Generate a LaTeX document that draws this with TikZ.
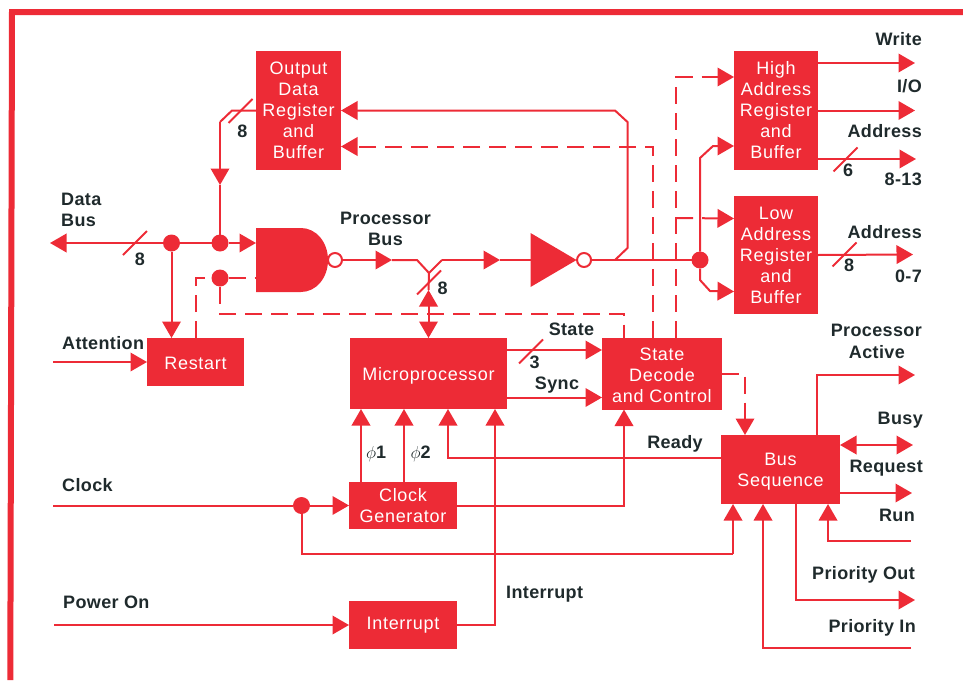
\documentclass[tikz,border=0pt]{standalone}
\usepackage{fontspec}
\setmainfont{Liberation Sans}
\newfontfamily\blockfont[LetterSpace=4]{Liberation Sans}
\newfontfamily\labelfont[LetterSpace=2]{Liberation Sans}
\usetikzlibrary{arrows.meta,positioning,shapes.geometric}
\definecolor{hpred}{HTML}{ED2B36}
\definecolor{labelink}{HTML}{1F2A2C}
\tikzstyle{block}=[rectangle,fill=hpred,text=white,align=center,inner sep=0pt,outer sep=0pt,
font=\blockfont\fontsize{18}{21}\selectfont]
\tikzstyle{lab}=[text=labelink,inner sep=0pt,align=center,font=\labelfont\bfseries\fontsize{18}{21}\selectfont]
\tikzstyle{sig}=[draw=hpred,line width=2pt]
\tikzstyle{dsig}=[sig,dash pattern=on 17pt off 9pt]
\tikzstyle{dot}=[circle,fill=hpred,minimum size=17pt,inner sep=0pt,outer sep=0pt]
\tikzstyle{bubble}=[circle,draw=hpred,fill=white,line width=2pt,minimum size=14pt,inner sep=0pt,outer sep=0pt]
\newcommand{\busslash}[1]{\draw[sig] ([xshift=-12pt,yshift=-12pt]#1) -- ([xshift=12pt,yshift=12pt]#1);}
\newcommand{\lowstrut}{\rule{0pt}{17pt}}
\begin{document}
\begin{tikzpicture}[x=1pt,y=-1pt,>={Triangle[length=16.5pt,width=18.5pt]}]
            \useasboundingbox (0,0) rectangle (963,680);

            % Frame
            \coordinate (framea) at (963,12);
            \coordinate (frameb) at (12,12);
            \coordinate (framec) at (10.3,680);
            \draw[hpred,line width=6pt] (framea) -- (frameb) -- (framec);

            % Blocks
            \node[block,minimum width=157pt,minimum height=71pt] at (428.5,373.5) (micro) {\lowstrut Microprocessor};
            \node[block,minimum width=120pt,minimum height=72pt,right=95pt of micro] (state) {\lowstrut State\\Decode\\and Control};
            \node[block,minimum width=97pt,minimum height=48pt,left=106pt of micro,yshift=11.5pt] (restart) {\rule{0pt}{15pt}Restart};
            \node[block,minimum width=108pt,minimum height=47pt,below=73pt of micro,xshift=-25.5pt] (clockgen) {Clock\\Generator};
            \node[block,minimum width=108pt,minimum height=48pt,below=72pt of clockgen] (interrupt) {Interrupt};
            \node[block,minimum width=119pt,minimum height=69pt] at (780.5,469.5) (busseq) {\lowstrut Bus\\Sequence};
            \node[block,minimum width=85pt,minimum height=119pt] at (298.5,110.5) (output) {Output\\Data\\Register\\and\\Buffer};
            \node[block,minimum width=84pt,minimum height=119pt,right=393pt of output] (high) {High\\Address\\Register\\and\\Buffer};
            \node[block,minimum width=84pt,minimum height=118pt,below=26pt of high] (low) {Low\\Address\\Register\\and\\Buffer};

            % Gates
            \node[minimum width=72pt,minimum height=64pt,inner sep=0pt,outer sep=0pt] at (292,260) (nand) {};
            \fill[hpred] (nand.north west) -- ([xshift=-27pt]nand.north east)
                .. controls ([xshift=-12pt]nand.north east) and ([yshift=18pt]nand.east) .. (nand.east)
                .. controls ([yshift=-18pt]nand.east) and ([xshift=-12pt]nand.south east) .. ([xshift=-27pt]nand.south east)
                -- (nand.south west) -- cycle;
            \node[bubble,right=0pt of nand] (nandout) {};
            \node[isosceles triangle,isosceles triangle stretches,fill=hpred,inner sep=0pt,outer sep=0pt,
                minimum width=54pt,minimum height=46pt] at (546,260) (inv) {};
            \node[bubble,right=0.5pt of inv] (invout) {};

            % Data bus part
            \coordinate (dataend) at (50,243);
            \coordinate (dataslash) at (135,243);
            \node[dot] at (171.5,243) (dataa) {};
            \node[dot] at (220,243) (datab) {};
            \coordinate (nandin) at ([yshift=17pt]nand.west);
            \draw[sig,->] (dataa) -- (dataend);
            \draw[sig] (dataa) -- (datab);
            \draw[sig,->] (datab) -- (nandin);
            \draw[sig,->] (dataa) -- (dataa |- restart.north);
            \busslash{dataslash}

            % Output register part
            \coordinate (outa) at (232,110.5);
            \coordinate (outb) at (220,122);
            \coordinate (outc) at (220,185);
            \coordinate (outslash) at (240.5,111);
            \draw[sig] (output.west) -- (outa) -- (outb);
            \draw[sig,->] (outb) -- (outc);
            \draw[sig] (outc) -- (datab);
            \busslash{outslash}

            % Processor bus part
            \coordinate (pbarrow) at (392,260);
            \coordinate (pba) at (417,260);
            \coordinate (pbfork) at (429,273);
            \coordinate (pbb) at (442,260);
            \coordinate (pbc) at (500,260);
            \coordinate (pbup) at (428.5,290);
            \coordinate (pbslash) at (429,282.5);
            \draw[sig,->] (nandout) -- (pbarrow);
            \draw[sig] (pbarrow) -- (pba) -- (pbfork) -- (pbb);
            \draw[sig,->] (pbb) -- (pbc);
            \draw[sig] (pbc) -- (inv.west);
            \draw[sig] (pbfork) -- (pbup);
            \draw[sig,<->] (pbup) -- (micro.north);
            \busslash{pbslash}

            \coordinate (inva) at (615,260);
            \coordinate (invb) at (627.5,248);
            \coordinate (invc) at (627.5,122);
            \coordinate (invd) at (615,110.5);
            \node[dot] at (700,260) (addr) {};
            \draw[sig] (invout) -- (addr);
            \draw[sig,->] (inva) -- (invb) -- (invc) -- (invd) -- (output.east);

            % Address part
            \coordinate (higha) at (700,158);
            \coordinate (highb) at (713,146);
            \coordinate (lowa) at (700,280);
            \coordinate (lowb) at (710,291);
            \coordinate (highin) at ([yshift=-35.5pt]high.west);
            \coordinate (lowin) at ([yshift=-36.5pt]low.west);
            \draw[sig,->] (addr) -- (higha) -- (highb) -- (highin);
            \draw[sig,->] (addr) -- (lowa) -- (lowb) -- (lowin);

            \coordinate (writea) at ([yshift=47.5pt]high.east);
            \coordinate (writeout) at (915,63);
            \coordinate (ioout) at (915,110.5);
            \coordinate (addra) at ([yshift=-48.5pt]high.east);
            \coordinate (addrout) at (916,159);
            \coordinate (addrslash) at (845.5,159.5);
            \coordinate (lowout) at (913,254.5);
            \coordinate (lowslash) at (844.5,254.5);
            \draw[sig,->] (writea) -- (writeout);
            \draw[sig,->] (high.east) -- (ioout);
            \draw[sig,->] (addra) -- (addrout);
            \draw[sig,->] (low.east) -- (lowout);
            \busslash{addrslash}
            \busslash{lowslash}

            % Dashed control lines
            \coordinate (dasha) at ([xshift=-9pt]state.north);
            \coordinate (dashb) at ([yshift=-36pt]output.east);
            \coordinate (dashc) at ([xshift=14pt]state.north);
            \coordinate (dashd) at ([yshift=33.5pt]high.west);
            \coordinate (dashe) at (dashc |- 0,218);
            \coordinate (dashf) at ([yshift=36.5pt]low.west);
            \draw[dsig,->] (dasha) |- (dashb);
            \draw[dsig,->] (dashc) |- (dashd);
            \draw[dsig,->] (dashe) -- (dashf);

            \node[dot] at (220,278) (rsta) {};
            \coordinate (rstb) at ([yshift=-18pt]nand.west);
            \coordinate (rstc) at (624,313.5);
            \draw[dsig] (restart.north) |- (rsta);
            \draw[dsig] (rsta) -- (rstb);
            \draw[dsig] (rsta) |- (rstc) -- (rstc |- state.north);

            % Microprocessor and state part
            \coordinate (stateout) at ([yshift=23.5pt]micro.east);
            \coordinate (syncout) at ([yshift=-24pt]micro.east);
            \coordinate (stateslash) at (531,351.5);
            \coordinate (busb) at ([xshift=-35.5pt]busseq.north);
            \draw[sig,->] (stateout) -- (stateout -| state.west);
            \draw[sig,->] (syncout) -- (syncout -| state.west);
            \draw[dsig,->] (state.east) -| (busb);
            \busslash{stateslash}

            % Clock part
            \coordinate (clockin) at (53,505.5);
            \node[dot] at (301.5,505.5) (clockdot) {};
            \coordinate (clockturn) at (733,554);
            \coordinate (busa) at ([xshift=-47.5pt]busseq.south);
            \coordinate (phione) at ([xshift=-42pt]clockgen.north);
            \coordinate (phitwo) at ([xshift=1pt]clockgen.north);
            \coordinate (statec) at ([xshift=-38pt]state.south);
            \draw[sig] (clockin) -- (clockdot);
            \draw[sig,->] (clockdot) -- (clockgen.west);
            \draw[sig] (clockdot) |- (clockturn);
            \draw[sig,->] (clockturn) -- (busa);
            \draw[sig,->] (phione) -- (phione |- micro.south);
            \draw[sig,->] (phitwo) -- (phitwo |- micro.south);
            \draw[sig,->] (clockgen.east) -| (statec);

            \coordinate (busready) at ([yshift=11.5pt]busseq.west);
            \coordinate (readyup) at ([xshift=19.5pt]micro.south);
            \draw[sig,->] (busready) -| (readyup);

            % Interrupt and restart inputs
            \coordinate (powerin) at (54,625);
            \coordinate (attin) at (53,362);
            \coordinate (intup) at ([xshift=66.5pt]micro.south);
            \draw[sig,->] (powerin) -- (interrupt.west);
            \draw[sig,->] (attin) -- (restart.west);
            \draw[sig,->] (interrupt.east) -| (intup);

            % Bus sequence part
            \coordinate (acta) at ([xshift=36.5pt]busseq.north);
            \coordinate (actout) at (915,375);
            \coordinate (busya) at ([yshift=24.5pt]busseq.east);
            \coordinate (busyout) at (913,445);
            \coordinate (reqa) at ([yshift=-23.5pt]busseq.east);
            \coordinate (reqout) at (912,493);
            \coordinate (runin) at (911,541);
            \coordinate (runa) at ([xshift=47.5pt]busseq.south);
            \coordinate (pria) at ([xshift=15.5pt]busseq.south);
            \coordinate (priout) at (915,600);
            \coordinate (priin) at (911,648);
            \coordinate (prib) at ([xshift=-17.5pt]busseq.south);
            \draw[sig,->] (acta) |- (actout);
            \draw[sig,<->] (busya) -- (busyout);
            \draw[sig,->] (reqa) -- (reqout);
            \draw[sig,->] (runin) -| (runa);
            \draw[sig,->] (pria) |- (priout);
            \draw[sig,->] (priin) -| (prib);

            % Labels
            \node[lab,anchor=base west] at (61,205.5) (ldata) {Data};
            \node[lab,anchor=base west] at (61,226.5) (ldatabus) {Bus};
            \node[lab,anchor=base] at (140,265.5) (ldatan) {8};
            \node[lab,anchor=base] at (242.5,137.5) (loutn) {8};
            \node[lab,anchor=base] at (385.5,224) (lproc) {Processor};
            \node[lab,anchor=base] at (385.5,245) (lprocbus) {Bus};
            \node[lab,anchor=base] at (442.5,294) (lprocn) {8};
            \node[lab,anchor=base west] at (62,349.5) (lattn) {Attention};
            \node[lab,anchor=base west] at (62,491.5) (lclock) {Clock};
            \node[lab,anchor=base west] at (63,608.5) (lpower) {Power On};
            \node[lab,anchor=base west] at (366,458.5) (lphione) {$\phi$1};
            \node[lab,anchor=base west] at (410.5,458.5) (lphitwo) {$\phi$2};
            \node[lab,anchor=base] at (534.5,368) (lstaten) {3};
            \node[lab,anchor=base] at (571.5,335) (lstate) {State};
            \node[lab,anchor=base] at (557,389) (lsync) {Sync};
            \node[lab,anchor=base] at (675,448.5) (lready) {Ready};
            \node[lab,anchor=base west] at (506,598) (lint) {Interrupt};
            \node[lab,anchor=base east] at (922,45) (lwrite) {Write};
            \node[lab,anchor=base east] at (922,92) (lio) {I/O};
            \node[lab,anchor=base east] at (922,137) (laddr) {Address};
            \node[lab,anchor=base] at (848,176.5) (laddrn) {6};
            \node[lab,anchor=base east] at (922,185) (lhigh) {8-13};
            \node[lab,anchor=base east] at (922,238.5) (laddrlow) {Address};
            \node[lab,anchor=base] at (849,271.5) (llown) {8};
            \node[lab,anchor=base east] at (922,282.5) (llow) {0-7};
            \node[lab,anchor=base east] at (922,336.5) (lact) {Processor};
            \node[lab,anchor=base east] at (905,358) (lactive) {Active};
            \node[lab,anchor=base east] at (923,424) (lbusy) {Busy};
            \node[lab,anchor=base east] at (923,472) (lreq) {Request};
            \node[lab,anchor=base east] at (915,521.5) (lrun) {Run};
            \node[lab,anchor=base east] at (915,579) (lpriout) {Priority Out};
            \node[lab,anchor=base east] at (916,632.5) (lpriin) {Priority In};

\end{tikzpicture}
\end{document}
